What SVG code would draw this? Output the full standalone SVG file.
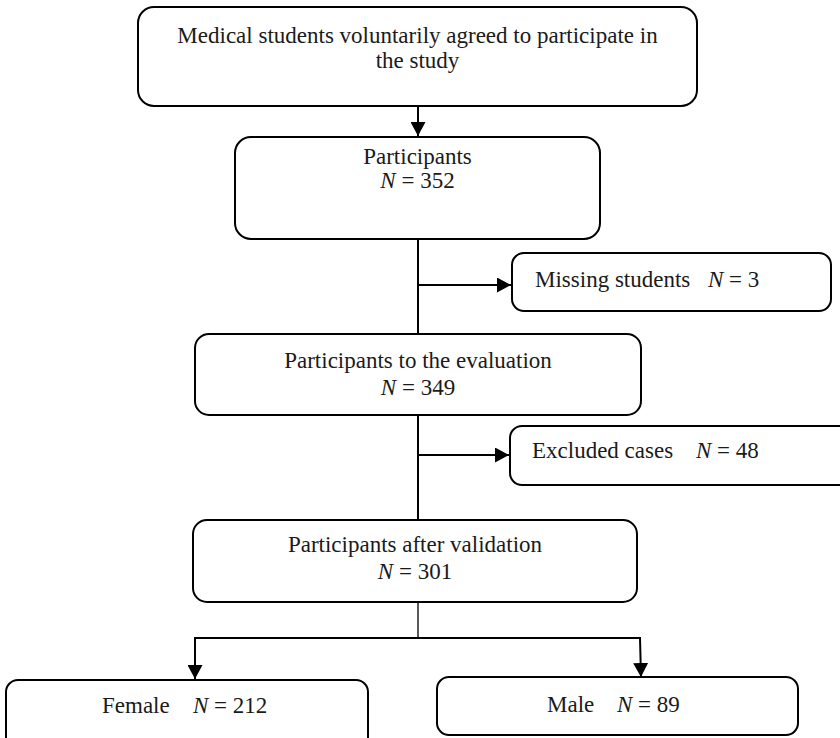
<svg xmlns="http://www.w3.org/2000/svg" width="840" height="738" viewBox="0 0 840 738">
<style>
.box{fill:#fff;stroke:#000;stroke-width:2}
.t{font-family:"Liberation Serif","Times New Roman",serif;font-size:23px;fill:#1a1a1a}
.c{text-anchor:middle}
.i{font-style:italic}
.ln{fill:none;stroke:#000;stroke-width:2}
.thin{fill:none;stroke:#000;stroke-width:1.3}
</style>
<defs>
<marker id="ah" markerUnits="userSpaceOnUse" markerWidth="15" markerHeight="15" refX="14" refY="7.5" orient="auto">
<path d="M0,0 L14,7.5 L0,15 z" fill="#000"/>
</marker>
</defs>
<rect width="840" height="738" fill="#fff"/>
<g id="connectors">
<line class="ln" x1="418" y1="106" x2="418" y2="136" marker-end="url(#ah)"/>
<line class="ln" x1="418" y1="239" x2="418" y2="334"/>
<line class="ln" x1="418" y1="285" x2="511" y2="285" marker-end="url(#ah)"/>
<line class="ln" x1="418" y1="415" x2="418" y2="520"/>
<line class="ln" x1="418" y1="455" x2="509" y2="455" marker-end="url(#ah)"/>
<line class="thin" x1="418" y1="602" x2="418" y2="638"/>
<polyline class="ln" points="195,678 195,638 640,638 641,677" marker-end="url(#ah)"/>
<line class="ln" x1="195" y1="640" x2="195" y2="679" marker-end="url(#ah)"/>
</g>
<g id="n1">
<rect class="box" x="138" y="7" width="559" height="99" rx="16"/>
<text class="t c" x="417.5" y="43">Medical students voluntarily agreed to participate in</text>
<text class="t c" x="417.5" y="68">the study</text>
</g>
<g id="n2">
<rect class="box" x="235" y="137" width="365" height="102" rx="16"/>
<text class="t c" x="417.5" y="164">Participants</text>
<text class="t c" x="417.5" y="188"><tspan class="i">N</tspan> = 352</text>
</g>
<g id="n3">
<rect class="box" x="512" y="253" width="319" height="58" rx="12"/>
<text class="t" x="535" y="287">Missing students<tspan class="i" x="708">N</tspan> = 3</text>
</g>
<g id="n4">
<rect class="box" x="195" y="334" width="446" height="81" rx="14"/>
<text class="t c" x="418" y="368">Participants to the evaluation</text>
<text class="t c" x="418" y="395"><tspan class="i">N</tspan> = 349</text>
</g>
<g id="n5">
<rect class="box" x="510" y="426" width="360" height="59" rx="12"/>
<text class="t" x="532" y="458">Excluded cases<tspan class="i" x="696">N</tspan> = 48</text>
</g>
<g id="n6">
<rect class="box" x="193" y="520" width="444" height="82" rx="14"/>
<text class="t c" x="415" y="552">Participants after validation</text>
<text class="t c" x="415" y="579"><tspan class="i">N</tspan> = 301</text>
</g>
<g id="n7">
<rect class="box" x="6" y="680" width="362" height="80" rx="12"/>
<text class="t" x="102" y="713">Female<tspan class="i" x="193">N</tspan> = 212</text>
</g>
<g id="n8">
<rect class="box" x="437" y="677" width="361" height="58" rx="12"/>
<text class="t" x="547" y="712">Male<tspan class="i" x="617">N</tspan> = 89</text>
</g>
</svg>
